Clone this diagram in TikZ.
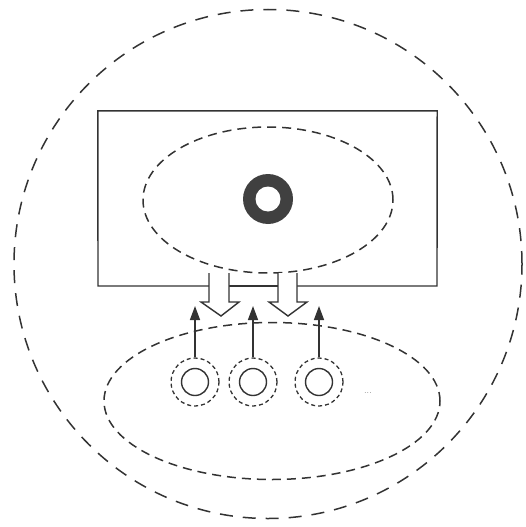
\documentclass[tikz,border=0pt]{standalone}
\usetikzlibrary{shapes.geometric,arrows.meta}
\begin{document}
\begin{tikzpicture}[x=1pt,y=-1pt,
  ink/.style={draw=black!80},
  longdash/.style={ink,line width=1.5pt,dash pattern=on 13pt off 10pt},
  middash/.style={ink,line width=1.5pt,dash pattern=on 9pt off 6pt},
  shortdash/.style={ink,line width=1.3pt,dash pattern=on 4pt off 3pt},
  solidline/.style={ink,line width=1.4pt},
  hollowarrow/.style={ink,line width=1.4pt,fill=white,line join=miter},
  uparrow/.style={ink,line width=1.4pt,-{Triangle[length=14pt,width=10pt]}},
  oval/.style={ellipse,inner sep=0pt}
]
\useasboundingbox (0,0) rectangle (525,527);
% outer ellipse
\node[oval,longdash,minimum width=508pt,minimum height=509pt] (outer) at (268,264) {};
% rectangle
\node[draw=none,minimum width=339pt,minimum height=175pt,inner sep=0pt] (box) at (267.5,198.5) {};
\coordinate (bl) at (98,286);
\coordinate (g1a) at (209,286);
\coordinate (g1b) at (229,286);
\coordinate (g2a) at (278,286);
\coordinate (g2b) at (297,286);
\coordinate (br) at (437,286);
\draw[solidline] (g1a) -- (bl) -- (box.north west) -- (box.north east) -- (br) -- (g2b);
\draw[solidline] (g1b) -- (g2a);
% inner top ellipse
\node[oval,middash,minimum width=250pt,minimum height=146pt] (inner) at (268,200) {};
% nucleus ring
\node[circle,fill=black!75,minimum size=50pt,inner sep=0pt] (ring) at (268,199) {};
\node[circle,fill=white,minimum size=25pt,inner sep=0pt] (core) at (ring.center) {};
% hollow arrows
\draw[hollowarrow] (209,273) -- (209,302) -- (201,302) -- (221,316) coordinate (a1tip) -- (239,302) -- (229,302) -- (229,273);
\draw[hollowarrow] (278,273) -- (278,302) -- (269,302) -- (288,316) coordinate (a2tip) -- (307,302) -- (297,302) -- (297,273);
% bottom ellipse
\node[oval,middash,minimum width=336pt,minimum height=157pt] (pool) at (272,401) {};
% small cells
\foreach \i/\x in {1/195,2/253,3/319}{
  \node[circle,shortdash,minimum size=48pt,inner sep=0pt] (d\i) at (\x,382) {};
  \node[circle,solidline,minimum size=27pt,inner sep=0pt] (c\i) at (\x,382) {};
  \coordinate (t\i) at (\x,306);
  \draw[uparrow] (d\i.north) -- (t\i);
}
\node[font=\small,text=black!65,inner sep=0pt] (dots) at (368,393) {...};
\end{tikzpicture}
\end{document}
